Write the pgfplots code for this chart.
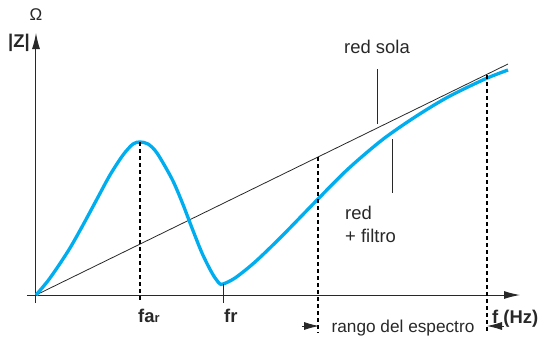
\documentclass[border=0pt]{standalone}
\usepackage{pgfplots}
\pgfplotsset{compat=1.18}
\usetikzlibrary{arrows.meta}
\usepackage{fontspec}
\setmainfont{Liberation Sans}

\definecolor{curvecyan}{RGB}{0,174,239}
\definecolor{inkgray}{RGB}{40,40,40}

\tikzset{lbl/.style={font=\fontsize{18.5}{22}\selectfont, inner sep=0pt, text=inkgray}}

\begin{document}
\begin{tikzpicture}
\begin{axis}[
  x=1bp, y=1bp,
  axis lines=middle,
  xmin=-9, xmax=484, ymin=-8, ymax=262,
  xtick=\empty, ytick=\empty,
  axis line style={inkgray, line width=1bp, -{Latex[length=16bp,width=8bp]}},
  clip=false,
]
% impedance of the network alone
\addplot[inkgray, line width=0.8bp] coordinates {(0,0) (472,231)};

% impedance of network + filter
\addplot[curvecyan, line width=3.3bp, smooth, tension=0.5] coordinates {
  (0,0) (11,13) (21,27) (34,47) (47,70) (61,96) (74,120) (87,140) (97,151)
  (104,153) (112,151) (121,142) (136,116) (146,93) (156,67) (166,42)
  (176,22) (183,12) (187,11) (199,17) (219,33) (246,59) (282,96)
  (312,126) (346,155) (379,178) (412,198) (449,216) (472,225)
};

% markers at the characteristic frequencies
\addplot[black, line width=1.2bp, dash pattern=on 4bp off 3bp] coordinates {(104,153) (104,-8)};
\addplot[inkgray, line width=1bp] coordinates {(187,11) (187,-8)};
\addplot[black, line width=1.2bp, dash pattern=on 4bp off 3bp] coordinates {(282,138) (282,-38)};
\addplot[black, line width=1.2bp, dash pattern=on 4bp off 3bp] coordinates {(451,220) (451,-38)};

% spectrum range dimension arrows
\addplot[inkgray, line width=0.8bp, -{Latex[length=15bp,width=8bp]}] coordinates {(266,-31) (283,-31)};
\addplot[inkgray, line width=0.8bp, -{Latex[length=15bp,width=8bp]}] coordinates {(468,-31) (451,-31)};

% leader lines
\addplot[inkgray, line width=0.8bp] coordinates {(341,171) (341,226)};
\addplot[inkgray, line width=0.8bp] coordinates {(356,156) (356,102)};

% labels
\node[lbl] at (axis cs:341,248) {red sola};
\node[lbl, anchor=base west] at (axis cs:309,76) {red};
\node[lbl, anchor=base west] at (axis cs:309,53) {+ filtro};
\node[lbl, font=\fontsize{17.3}{21}\selectfont, anchor=base] at (axis cs:367,-37) {rango del espectro};
\node[lbl, anchor=base west] at (axis cs:102,-27) {\textbf{fa}{\fontsize{13}{15}\selectfont\bfseries r}};
\node[lbl, anchor=base west] at (axis cs:188,-27) {\textbf{fr}};
\node[lbl, anchor=base west] at (axis cs:456,-28) {\textbf{f (Hz)}};
\node[lbl, anchor=base west] at (axis cs:-28,248) {\textbf{|Z|}};
\node[lbl, font=\fontsize{17}{20}\selectfont] at (axis cs:0,280) {Ω};

% canvas extent
\path (axis cs:-36,-47) rectangle (axis cs:503,295);
\end{axis}
\end{tikzpicture}
\end{document}
